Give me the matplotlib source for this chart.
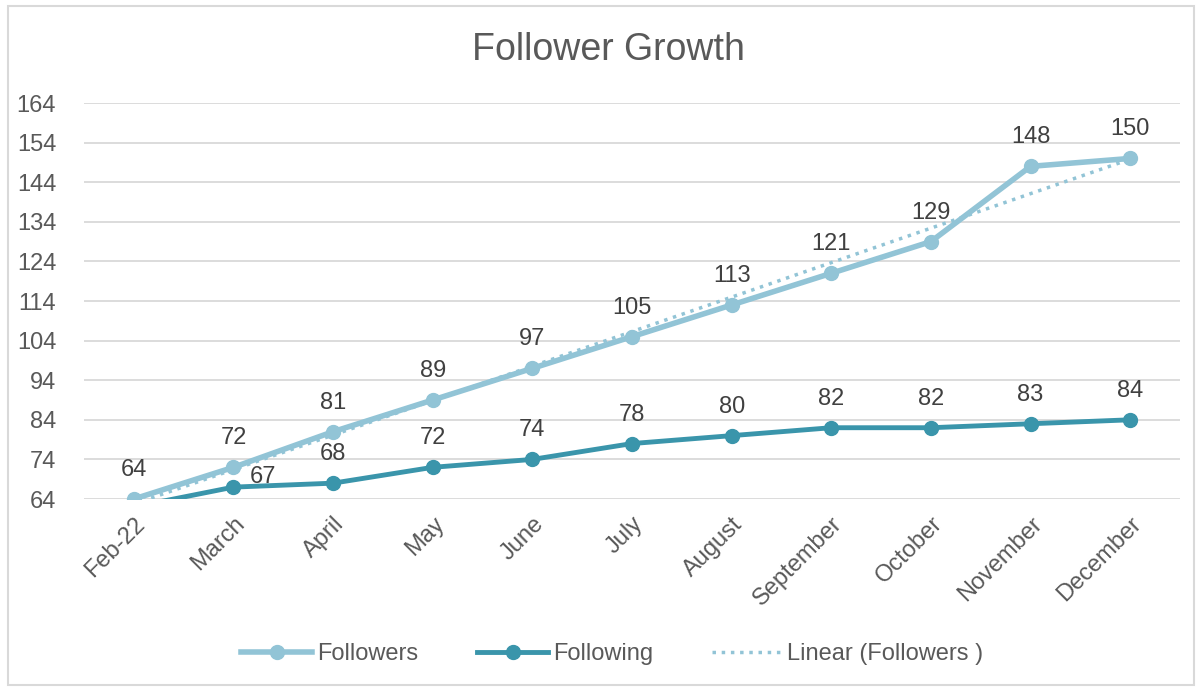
import numpy as np
import matplotlib.pyplot as plt
from matplotlib.patches import Rectangle

# Follower growth data
months = ['Feb-22', 'March', 'April', 'May', 'June', 'July', 'August',
          'September', 'October', 'November', 'December']
followers = [64, 72, 81, 89, 97, 105, 113, 121, 129, 148, 150]
following = [62, 67, 68, 72, 74, 78, 80, 82, 82, 83, 84]
yticks = [64, 74, 84, 94, 104, 114, 124, 134, 144, 154, 164]

c_followers = '#92C4D6'
c_following = '#3A95AB'
c_text = '#595959'
ymin, ymax = 64, 164

plt.rcParams['font.family'] = ['Liberation Sans', 'DejaVu Sans']

fig = plt.figure(figsize=(12.01, 6.87), dpi=100)
ax = fig.add_axes([84 / 1201, 1 - 499 / 687, 1096 / 1201, 396 / 687])

x = np.arange(len(months))

# linear trendline for followers
k, b = np.polyfit(x, followers, 1)
ax.plot(x, k * x + b, ':', color=c_followers, lw=2.5, label='Linear (Followers )', zorder=2)

# points below the axis minimum are hidden, like Excel does
vis_fr = [i for i, v in enumerate(followers) if v >= ymin]
vis_fg = [i for i, v in enumerate(following) if v >= ymin]
ax.plot(x, followers, '-o', color=c_followers, lw=4, ms=10, markevery=vis_fr,
        label='Followers', zorder=3)
ax.plot(x, following, '-o', color=c_following, lw=3.5, ms=10, markevery=vis_fg,
        label='Following', zorder=3)

for i in vis_fr:
    ax.annotate(str(followers[i]), (x[i], followers[i]), xytext=(0, 13),
                textcoords='offset points', ha='center', va='bottom',
                fontsize=17, color='#404040')
for i in vis_fg:
    # the March label sits to the right to avoid the followers line
    off, va = ((21, 7), 'center') if i == 1 else ((0, 13), 'bottom')
    ax.annotate(str(following[i]), (x[i], following[i]), xytext=off,
                textcoords='offset points', ha='center', va=va,
                fontsize=17, color='#404040')

ax.set_xlim(-0.5, len(months) - 0.5)
ax.set_ylim(ymin, ymax)
ax.set_yticks(yticks)
ax.set_xticks(x)
ax.set_xticklabels(months, rotation=45, ha='right', rotation_mode='anchor')
ax.tick_params(axis='both', length=0, labelsize=17, labelcolor=c_text)
ax.tick_params(axis='y', pad=20)
ax.tick_params(axis='x', pad=10)
ax.grid(axis='y', color='#D9D9D9', lw=1.3)
ax.set_axisbelow(True)
for s in ax.spines.values():
    s.set_visible(False)

fig.text(0.507, 1 - 50 / 687, 'Follower Growth', ha='center', va='center',
         fontsize=27, color=c_text)

h, l = ax.get_legend_handles_labels()
order = [1, 2, 0]
fig.legend([h[i] for i in order], [l[i] for i in order], loc='center',
           bbox_to_anchor=(0.51, 1 - 654 / 687), ncol=3, frameon=False,
           fontsize=17, labelcolor=c_text, handlelength=3, columnspacing=2.5,
           handletextpad=0.2)

fig.patches.append(Rectangle((8 / 1201, 2 / 687), 1186 / 1201, 679 / 687,
                             transform=fig.transFigure, fill=False,
                             edgecolor='#D9D9D9', lw=1.5))

fig.savefig('out.png', dpi=100)
